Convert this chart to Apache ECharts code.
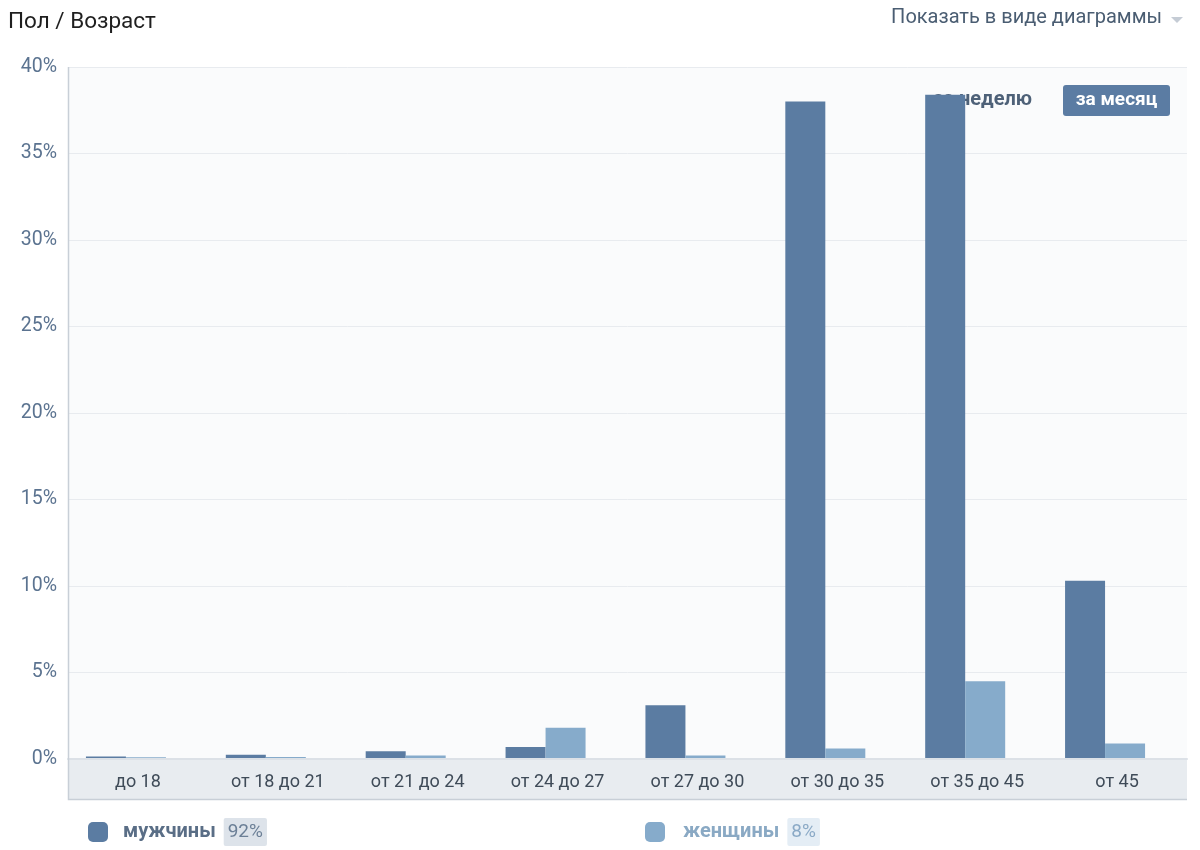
<!DOCTYPE html>
<html>
<head>
<meta charset="utf-8">
<script src="https://cdn.jsdelivr.net/npm/echarts@6/dist/echarts.min.js"></script>
<style>html,body{margin:0;padding:0;background:#fff}#c{width:1200px;height:850px}</style>
</head>
<body>
<div id="c"></div>
<script>
const categories = ['до 18','от 18 до 21','от 21 до 24','от 24 до 27','от 27 до 30','от 30 до 35','от 35 до 45','от 45'];
const maleValues = [0.15, 0.25, 0.45, 0.7, 3.1, 38.0, 38.4, 10.3];
const femaleValues = [0.1, 0.12, 0.2, 1.8, 0.2, 0.6, 4.5, 0.9];
const seriesNames = ['мужчины', 'женщины'];
const seriesShares = ['92%', '8%'];
const yTicks = { min: 0, max: 40, interval: 5 };

const FONT = 'Roboto, "Liberation Sans", sans-serif';
const MALE = '#5b7ca2';
const FEMALE = '#86abcb';

const chart = echarts.init(document.getElementById('c'));
chart.setOption({
  animation: false,
  textStyle: { fontFamily: FONT },
  title: [
    { text: 'Пол / Возраст', left: 8, top: 11, padding: 0, textStyle: { fontSize: 22.5, fontWeight: 'normal', color: '#1f1f1f', fontFamily: FONT } },
    { text: 'Показать в виде диаграммы', right: 38, top: 8, padding: 0, textStyle: { fontSize: 20, fontWeight: 'normal', color: '#4a5d72', fontFamily: FONT } }
  ],
  grid: { left: 68, right: 13, top: 67, bottom: 91, show: true, backgroundColor: '#fafbfc', borderWidth: 0 },
  xAxis: {
    type: 'category',
    data: categories,
    axisTick: { show: false },
    axisLine: { show: true, lineStyle: { color: '#dce1e7', width: 2 } },
    axisLabel: { color: '#3f4b58', fontSize: 18, margin: 14, fontFamily: FONT },
    z: 3
  },
  yAxis: {
    type: 'value',
    min: yTicks.min, max: yTicks.max, interval: yTicks.interval,
    axisLabel: { formatter: '{value}%', color: '#5b7390', fontSize: 19.5, margin: 11, fontFamily: FONT },
    axisLine: { show: false },
    axisTick: { show: false },
    splitLine: { lineStyle: { color: '#e8ebef', width: 1 } }
  },
  legend: [
    {
      data: [seriesNames[0]], left: 88, top: 818, padding: 0,
      icon: 'roundRect', itemWidth: 20, itemHeight: 20,
      formatter: n => '{n|' + n + '}{s| }{p|' + seriesShares[0] + '}',
      textStyle: { rich: {
        n: { fontSize: 20, fontWeight: 'bold', color: '#5a6e86', padding: [0, 0, 0, 10], fontFamily: FONT },
        s: { fontSize: 8, width: 8 },
        p: { fontSize: 19, color: '#6b7f96', backgroundColor: '#dde3ea', padding: [5, 4, 4, 4], borderRadius: 2, fontFamily: FONT }
      } }
    },
    {
      data: [seriesNames[1]], left: 645, top: 818, padding: 0,
      icon: 'roundRect', itemWidth: 20, itemHeight: 20,
      formatter: n => '{n|' + n + '}{s| }{p|' + seriesShares[1] + '}',
      textStyle: { rich: {
        n: { fontSize: 20, fontWeight: 'bold', color: '#8aa9c4', padding: [0, 0, 0, 13], fontFamily: FONT },
        s: { fontSize: 8, width: 8 },
        p: { fontSize: 19, color: '#8aa9c6', backgroundColor: '#e4edf5', padding: [5, 4, 4, 4], borderRadius: 2, fontFamily: FONT }
      } }
    }
  ],
  graphic: [
    { type: 'rect', z: -10, silent: true, shape: { x: 68, y: 759, width: 1119, height: 40 }, style: { fill: '#e8ecf0' } },
    { type: 'polyline', z: 10, silent: true, shape: { points: [[68.5, 67], [68.5, 799.5], [1187, 799.5]] }, style: { stroke: '#c8cfd7', lineWidth: 1.5, fill: null } },
    { type: 'polygon', silent: true, shape: { points: [[1171, 17], [1183, 17], [1177, 23]] }, style: { fill: '#c5ccd5' } },
    { type: 'text', z: 0, silent: true, x: 933, y: 100, style: { text: 'за неделю', fill: '#4e6178', font: 'bold 20px ' + FONT, textVerticalAlign: 'middle' } },
    { type: 'rect', z: 10, silent: true, shape: { x: 1063, y: 85, width: 107, height: 31, r: 3 }, style: { fill: '#5b7ca3' } },
    { type: 'text', z: 11, silent: true, x: 1116.5, y: 100.5, style: { text: 'за месяц', fill: '#ffffff', font: 'bold 19px ' + FONT, textAlign: 'center', textVerticalAlign: 'middle' } }
  ],
  series: [
    { name: seriesNames[0], type: 'bar', data: maleValues, barWidth: 40, barGap: '0%', itemStyle: { color: MALE }, z: 2 },
    { name: seriesNames[1], type: 'bar', data: femaleValues, barWidth: 40, barGap: '0%', itemStyle: { color: FEMALE }, z: 2 },
    { name: 'spacer', type: 'bar', data: [], barWidth: 24, barGap: '0%', silent: true, itemStyle: { color: 'transparent' } }
  ]
});
</script>
</body>
</html>
